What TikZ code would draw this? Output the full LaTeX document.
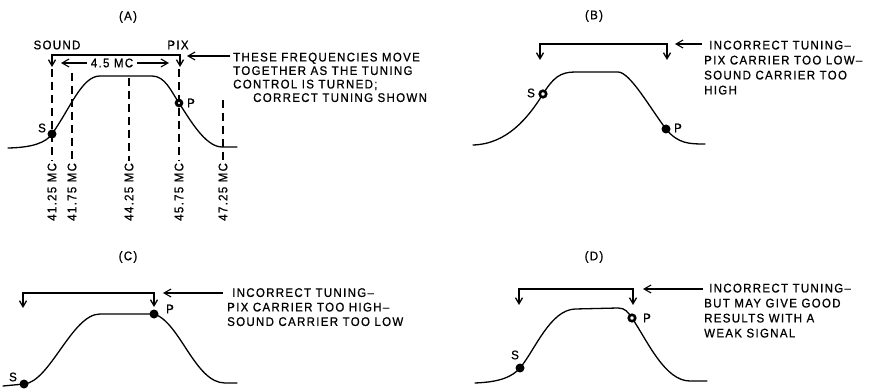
\documentclass[tikz,border=0pt]{standalone}
\usepackage{fontspec}
\setmainfont{Liberation Sans}[LetterSpace=10.5, FakeStretch=0.92, FakeBold=0.8]
\usetikzlibrary{arrows.meta}
\begin{document}
\begin{tikzpicture}[x=1pt,y=-1pt,
  lbl/.style={font=\fontsize{12.5}{14}\selectfont, inner sep=0pt},
  blk/.style={align=left, anchor=north west, inner sep=0pt, font=\fontsize{12.5}{#1}\selectfont},
  blk/.default=15,
  vl/.style={lbl, rotate=90, anchor=west},
  curve/.style={line width=1.3pt, line cap=round, line join=round},
  brk/.style={line width=1.3pt, {Straight Barb[length=6pt,width=7pt]}-{Straight Barb[length=6pt,width=7pt]}},
  ptr/.style={line width=1.1pt, -{Straight Barb[length=7pt,width=8pt]}},
  dot/.style={circle, fill=black, inner sep=0pt, minimum size=9pt},
  ring/.style={circle, draw=black, fill=white, line width=2.6pt, inner sep=0pt, minimum size=6.5pt},
  dsh/.style={line width=1.4pt, dash pattern=on 8pt off 5pt}]
\useasboundingbox (0,0) rectangle (875,390);

% ================= Panel A =================
\node[lbl] (tA) at (128,17) {(A)};
\node[lbl] (snd) at (57,45) {SOUND};
\node[lbl] (pix) at (178,45) {PIX};
\coordinate (bAl) at (52,55); \coordinate (bAr) at (180,55);
\coordinate (aAl) at (52,67); \coordinate (aAr) at (180,67);
\draw[brk] (aAl) -- (bAl) -- (bAr) -- (aAr);
\node[lbl] (mc) at (112,63) {4.5 MC};
\coordinate (mcl) at (61,63); \coordinate (mcr) at (169,63);
\draw[ptr] ([xshift=-4pt]mc.west) -- (mcl);
\draw[ptr] ([xshift=4pt]mc.east) -- (mcr);
\coordinate (tailA) at (230,56); \coordinate (tipA) at (187,56);
\draw[ptr] (tailA) -- (tipA);
\node[blk=13.5] (txA) at (233,52.5) {THESE FREQUENCIES MOVE\\TOGETHER AS THE TUNING\\CONTROL IS TURNED;\\\hspace*{20pt}CORRECT TUNING SHOWN};

% frequency labels and dashed lines
\node[vl] (f1) at (52,221) {41.25 MC};
\node[vl] (f2) at (72,221) {41.75 MC};
\node[vl] (f3) at (129,221) {44.25 MC};
\node[vl] (f4) at (179,221) {45.75 MC};
\node[vl] (f5) at (223,221) {47.25 MC};
\coordinate (d1) at (52,69); \coordinate (d2) at (72,73); \coordinate (d3) at (129,78);
\coordinate (d4) at (179,69); \coordinate (d5) at (223,100);
\draw[dsh, shorten >=2pt] (d1) -- (f1.east);
\draw[dsh, shorten >=2pt] (d2) -- (f2.east);
\draw[dsh, shorten >=2pt] (d3) -- (f3.east);
\draw[dsh, shorten >=2pt] (d4) -- (f4.east);
\draw[dsh, shorten >=2pt] (d5) -- (f5.east);

% curve A
\coordinate (A0) at (8,148); \coordinate (SA) at (52,134);
\coordinate (A2) at (100,76); \coordinate (A3) at (152,76);
\coordinate (PA) at (179,103); \coordinate (A5) at (222,147); \coordinate (A6) at (237,147);
\draw[curve] (A0) .. controls (33,147.5) and (46,142.5) .. (SA)
  .. controls (71,107) and (82,76) .. (A2) -- (A3)
  .. controls (165,76) and (171,91) .. (PA)
  .. controls (189,118) and (205,147) .. (A5) -- (A6);
\node[dot] (sA) at (SA) {};
\node[ring, line width=3pt, minimum size=5.5pt] (pA) at (PA) {};
\node[lbl] (sAl) at (42,128) {S};
\node[lbl] (pAl) at (191,103) {P};

% ================= Panel B =================
\node[lbl] (tB) at (594,16) {(B)};
\coordinate (bBl) at (540,44); \coordinate (bBr) at (667,44);
\coordinate (aBl) at (540,60); \coordinate (aBr) at (667,60);
\draw[brk] (aBl) -- (bBl) -- (bBr) -- (aBr);
\coordinate (tailB) at (702,44); \coordinate (tipB) at (675,44);
\draw[ptr] (tailB) -- (tipB);
\node[blk=15] (txB) at (704,40.5) {\hspace*{5pt}INCORRECT TUNING–\\PIX CARRIER TOO LOW–\\SOUND CARRIER TOO\\HIGH};
\coordinate (B0) at (473,145); \coordinate (SB) at (543,94);
\coordinate (B2) at (575,72); \coordinate (B3) at (618,72);
\coordinate (PB) at (666,129); \coordinate (B5) at (705,144);
\draw[curve] (B0) .. controls (507,144) and (528,118) .. (SB)
  .. controls (553,78) and (560,72) .. (B2) -- (B3)
  .. controls (630,72) and (650,108) .. (PB)
  .. controls (678,144) and (690,144) .. (B5);
\node[ring] (sB) at (SB) {};
\node[dot] (pB) at (PB) {};
\node[lbl] (sBl) at (531,93) {S};
\node[lbl] (pBl) at (678,128) {P};

% ================= Panel C =================
\node[lbl] (tC) at (128,257) {(C)};
\coordinate (bCl) at (23,293); \coordinate (bCr) at (154,293);
\coordinate (aCl) at (23,308); \coordinate (aCr) at (154,307);
\draw[brk] (aCl) -- (bCl) -- (bCr) -- (aCr);
\coordinate (tailC) at (223,293); \coordinate (tipC) at (163,293);
\draw[ptr] (tailC) -- (tipC);
\node[blk=14.5] (txC) at (227,288) {\hspace*{5pt}INCORRECT TUNING–\\PIX CARRIER TOO HIGH–\\SOUND CARRIER TOO LOW};
\coordinate (C0) at (3,386); \coordinate (SC) at (24,384);
\coordinate (C2) at (100,314); \coordinate (PC) at (154,314);
\coordinate (C5) at (225,383); \coordinate (C6) at (237,383);
\draw[curve] (C0) -- (SC)
  .. controls (50,382) and (72,314) .. (C2) -- (PC)
  .. controls (180,322) and (195,383) .. (C5) -- (C6);
\node[dot] (sC) at (SC) {};
\node[dot] (pC) at (PC) {};
\node[lbl] (sCl) at (13,377) {S};
\node[lbl] (pCl) at (170,309) {P};

% ================= Panel D =================
\node[lbl] (tD) at (594,257) {(D)};
\coordinate (bDl) at (519,289); \coordinate (bDr) at (633,289);
\coordinate (aDl) at (519,305); \coordinate (aDr) at (633,305);
\draw[brk] (aDl) -- (bDl) -- (bDr) -- (aDr);
\coordinate (tailD) at (703,289); \coordinate (tipD) at (643,289);
\draw[ptr] (tailD) -- (tipD);
\node[blk=15] (txD) at (704,283.5) {\hspace*{5pt}INCORRECT TUNING–\\BUT MAY GIVE GOOD\\RESULTS WITH A\\WEAK SIGNAL};
\coordinate (D0) at (475,383); \coordinate (SD) at (520,368);
\coordinate (D2) at (575,309); \coordinate (D3) at (618,308);
\coordinate (PD) at (632,318); \coordinate (D5) at (690,381); \coordinate (D6) at (707,381);
\draw[curve] (D0) .. controls (500,382) and (512,377) .. (SD)
  .. controls (535,350) and (550,310) .. (D2) -- (D3)
  .. controls (625,308) and (628,312) .. (PD)
  .. controls (648,342) and (665,381) .. (D5) -- (D6);
\node[dot] (sD) at (SD) {};
\node[ring] (pD) at (PD) {};
\node[lbl] (sDl) at (515,355) {S};
\node[lbl] (pDl) at (647,318) {P};
\end{tikzpicture}
\end{document}
